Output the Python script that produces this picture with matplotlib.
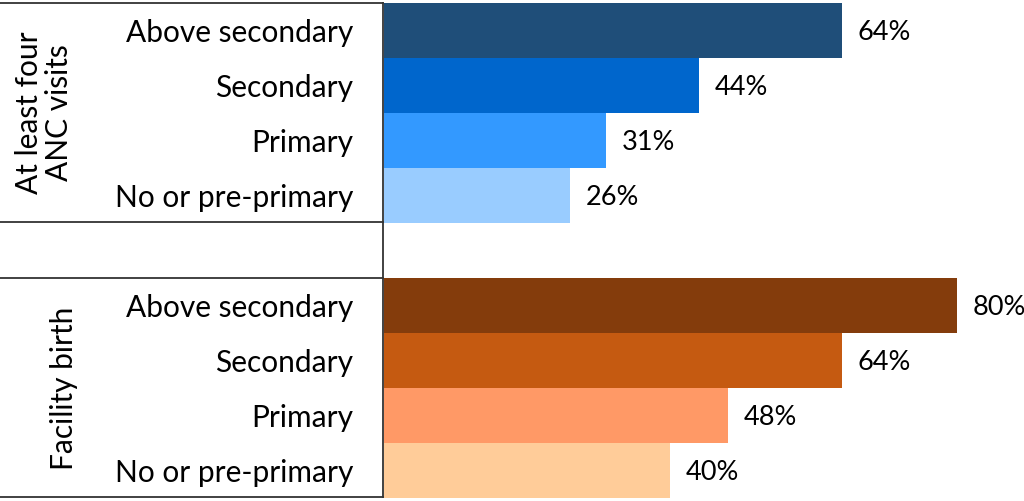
import numpy as np
import matplotlib
matplotlib.use("Agg")
from matplotlib import pyplot as plt
from matplotlib.lines import Line2D

plt.rcParams['font.family'] = ['Lato', 'DejaVu Sans']

# data
groups = ['At least four\nANC visits', 'Facility birth']
levels = ['Above secondary', 'Secondary', 'Primary', 'No or pre-primary']
anc = [64, 44, 31, 26]
facility = [80, 64, 48, 40]
anc_colors = ['#1F4E79', '#0066CC', '#3399FF', '#99CCFF']
fac_colors = ['#843C0C', '#C55A11', '#FF9966', '#FFCC99']

fig = plt.figure(figsize=(10.24, 5.01), dpi=100)
W, H = 1024, 501
x0 = 384
top, bot = 3, 498
ax = fig.add_axes([x0 / W, (H - bot) / H, (W - x0) / W, (bot - top) / H])

# row positions: 4 bars, one empty row, 4 bars
pos_anc = np.arange(4)
pos_fac = np.arange(5, 9)

ax.barh(pos_anc, anc, height=1.0, color=anc_colors)
ax.barh(pos_fac, facility, height=1.0, color=fac_colors)

for p, v in zip(list(pos_anc) + list(pos_fac), anc + facility):
    ax.text(v + 2.2, p + 0.03, f'{v}%', va='center', ha='left', fontsize=19.5)

ax.set_xlim(0, (W - x0) / 7.16)
ax.set_ylim(8.5, -0.5)
ax.set_yticks(list(pos_anc) + list(pos_fac))
ax.set_yticklabels(levels + levels, fontsize=21.5)
ax.tick_params(axis='y', length=0, pad=22)
ax.set_xticks([])
for s in ax.spines.values():
    s.set_visible(False)

# box lines on the label side
lc = '#333333'
for yp in [3, 222, 278, 497]:
    fig.add_artist(Line2D([0, 383 / W], [1 - yp / H, 1 - yp / H], color=lc, lw=1.3))
fig.add_artist(Line2D([383 / W, 383 / W], [1 - 3 / H, 1 - 497 / H], color=lc, lw=1.3))

# group labels
fig.text(44 / W, 1 - 113 / H, groups[0], rotation=90, ha='center', va='center',
         fontsize=21.5, linespacing=1.1)
fig.text(64 / W, 1 - 388 / H, groups[1], rotation=90, ha='center', va='center',
         fontsize=21.5)

fig.savefig('out.png', dpi=100)
